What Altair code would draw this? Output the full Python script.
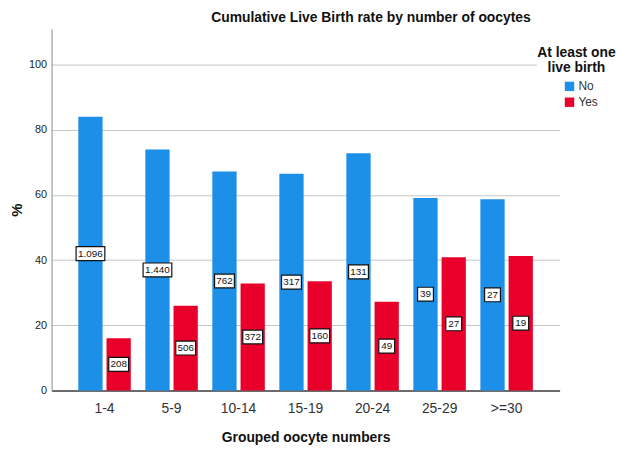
import altair as alt
import pandas as pd

groups = ["1-4", "5-9", "10-14", "15-19", "20-24", "25-29", ">=30"]
no_pct = [84.0, 74.0, 67.2, 66.5, 72.8, 59.1, 58.7]
yes_pct = [16.0, 26.0, 32.8, 33.5, 27.2, 40.9, 41.3]
no_counts = ["1.096", "1.440", "762", "317", "131", "39", "27"]
yes_counts = ["208", "506", "372", "160", "49", "27", "19"]
series = ["No", "Yes"]
colors = ["#1c8fe8", "#e8002b"]

rows = []
for g, p, c in zip(groups, no_pct, no_counts):
    rows.append({"group": g, "birth": "No", "pct": p, "label": c})
for g, p, c in zip(groups, yes_pct, yes_counts):
    rows.append({"group": g, "birth": "Yes", "pct": p, "label": c})
df = pd.DataFrame(rows)

FONT = "Arial, Liberation Sans, sans-serif"

# label box outlines (unit-square paths, scaled by symbol size)
box_paths = {
    "2": "M-0.533,-0.467L0.533,-0.467L0.533,0.467L-0.533,0.467Z",
    "3": "M-0.667,-0.467L0.667,-0.467L0.667,0.467L-0.667,0.467Z",
    "5": "M-0.967,-0.467L0.967,-0.467L0.967,0.467L-0.967,0.467Z",
}

x_enc = alt.X(
    "group:N", sort=groups,
    scale=alt.Scale(paddingInner=0.2167, paddingOuter=0.399),
    axis=alt.Axis(title="Grouped oocyte numbers", labelAngle=0, ticks=False,
                  labelFontSize=14, labelColor="#333", labelPadding=11,
                  titleFontSize=14, titleFontWeight="bold", titleColor="#111",
                  titlePadding=16, domainColor="#444", domainWidth=1.5, grid=False),
)
xoff_enc = alt.XOffset("birth:N", sort=series, scale=alt.Scale(paddingInner=0.14, paddingOuter=0))
y_axis = alt.Axis(title="%", values=[0, 20, 40, 60, 80, 100], ticks=False,
                  labelFontSize=11, labelColor="#222", labelPadding=5,
                  gridColor="#c4c4c4", gridWidth=1, domainColor="#888",
                  titleFontSize=15, titleFontWeight="bold", titleColor="#111",
                  titlePadding=4)
y_scale = alt.Scale(domain=[0, 111], nice=False)

bars = alt.Chart().mark_bar().encode(
    x=x_enc,
    xOffset=xoff_enc,
    y=alt.Y("pct:Q", scale=y_scale, axis=y_axis),
    color=alt.Color(
        "birth:N", sort=series,
        scale=alt.Scale(domain=series, range=colors),
        legend=alt.Legend(
            title=["At least one", "live birth"], orient="none",
            legendX=490, legendY=17,
            titleFontSize=14, titleFontWeight="bold", titleColor="#111",
            titleAlign="center", titleAnchor="middle", titleLineHeight=15,
            titlePadding=6,
            labelFontSize=12, labelColor="#333", labelOffset=3,
            symbolType="square", symbolSize=90, symbolOffset=8,
            symbolStrokeWidth=0, rowPadding=4,
            fillColor="white", padding=0,
        ),
    ),
)

boxes = alt.Chart().mark_point(
    size=900, fill="white", stroke="#111", strokeWidth=1.2,
    opacity=1, fillOpacity=1, strokeOpacity=1,
).encode(
    x=x_enc,
    xOffset=xoff_enc,
    y=alt.Y("mid:Q", scale=y_scale, axis=y_axis),
    shape=alt.Shape("len:N", scale=alt.Scale(domain=list(box_paths.keys()),
                                            range=list(box_paths.values())),
                    legend=None),
)

texts = alt.Chart().mark_text(
    font=FONT, fontSize=10, color="#111", align="center", baseline="middle",
).encode(
    x=x_enc,
    xOffset=xoff_enc,
    y=alt.Y("mid:Q", scale=y_scale, axis=y_axis),
    text="label:N",
)

chart = alt.layer(bars, boxes, texts, data=df).transform_calculate(
    mid="datum.pct / 2",
    len="toString(length(datum.label))",
).properties(
    width=513,
    height=365,
    title=alt.Title("Cumulative Live Birth rate by number of oocytes",
                    fontSize=14, fontWeight="bold", color="#111",
                    anchor="middle", dx=66, offset=4, font=FONT),
    padding={"left": 44, "top": 19, "right": 62, "bottom": 55},
    autosize=alt.AutoSizeParams(type="none"),
).configure(font=FONT, background="white").configure_view(stroke=None)

chart.save("out.html", embed_options={"renderer": "svg", "actions": False})
